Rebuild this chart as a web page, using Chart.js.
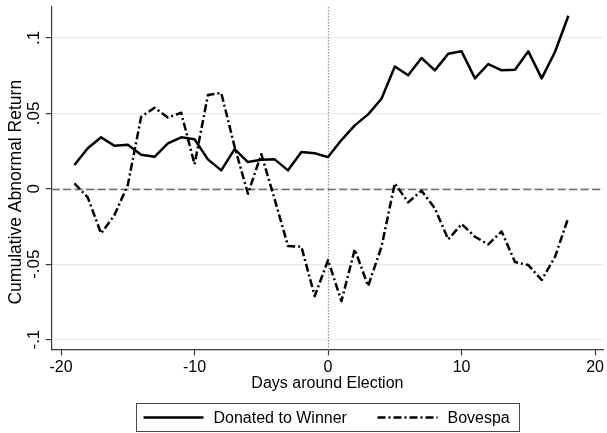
<!DOCTYPE html>
<html>
<head>
<meta charset="utf-8">
<script src="https://cdn.jsdelivr.net/npm/chart.js@4.4.1/dist/chart.umd.min.js"></script>
<style>
  html, body { margin: 0; padding: 0; background: #fff; }
  #wrap { width: 607px; height: 433px; }
</style>
</head>
<body>
<div id="wrap"><canvas id="c" width="607" height="433"></canvas></div>
<script>
// Event window, in trading days around the election date
const days = [-19, -18, -17, -16, -15, -14, -13, -12, -11, -10, -9, -8, -7, -6, -5, -4, -3, -2, -1, 0,
              1, 2, 3, 4, 5, 6, 7, 8, 9, 10, 11, 12, 13, 14, 15, 16, 17, 18];

// Cumulative abnormal return of firms that donated to the winning candidate
const donatedToWinner = [0.0157, 0.0268, 0.0341, 0.0285, 0.0292, 0.0225, 0.0212, 0.0301, 0.0341, 0.0328,
                         0.0195, 0.0122, 0.0263, 0.0177, 0.0192, 0.0195, 0.0122, 0.0243, 0.0235, 0.0210,
                         0.0323, 0.0420, 0.0493, 0.0597, 0.0811, 0.0752, 0.0867, 0.0785, 0.0895, 0.0911,
                         0.0732, 0.0827, 0.0785, 0.0789, 0.0911, 0.0732, 0.0908, 0.1147];

// Cumulative return of the Bovespa index
const bovespa = [0.0036, -0.0057, -0.0296, -0.0174, 0.0025, 0.0477, 0.0537, 0.0473, 0.0504, 0.0162,
                 0.0621, 0.0635, 0.0279, -0.0033, 0.0230, -0.0070, -0.0380, -0.0384, -0.0712, -0.0473,
                 -0.0745, -0.0402, -0.0645, -0.0385, 0.0036, -0.0090, -0.0013, -0.0130, -0.0336, -0.0234,
                 -0.0318, -0.0369, -0.0283, -0.0486, -0.0506, -0.0605, -0.0451, -0.0190];

const seriesNames = ['Donated to Winner', 'Bovespa'];
const xTickValues = [-20, -10, 0, 10, 20];
const yTickValues = [-0.1, -0.05, 0, 0.05, 0.1];
const yTickLabels = ['-.1', '-.05', '0', '.05', '.1'];
const xTitle = 'Days around Election';
const yTitle = 'Cumulative Abnormal Return';

const FONT = "'Liberation Sans', Arial, Helvetica, sans-serif";
const AXIS_COLOR = '#3a3a3a';
const BOVESPA_DASH = [8, 3, 2, 3];

const toPoints = (ys) => days.map((d, i) => ({ x: d, y: ys[i] }));

// Reference lines: dashed at zero return, dotted on the election day
const referenceLines = {
  id: 'referenceLines',
  beforeDatasetsDraw(chart) {
    const { ctx, chartArea: a, scales: { x, y } } = chart;
    ctx.save();
    ctx.lineWidth = 1.3;
    ctx.strokeStyle = '#6e6e6e';
    ctx.setLineDash([8, 3.5]);
    const y0 = Math.round(y.getPixelForValue(0)) + 0.5;
    ctx.beginPath();
    ctx.moveTo(a.left, y0);
    ctx.lineTo(a.right, y0);
    ctx.stroke();
    ctx.strokeStyle = '#9a9a9a';
    ctx.setLineDash([1.5, 1.5]);
    const x0 = Math.round(x.getPixelForValue(0)) + 0.5;
    ctx.beginPath();
    ctx.moveTo(x0, a.top);
    ctx.lineTo(x0, a.bottom);
    ctx.stroke();
    ctx.restore();
  }
};

// Vertical y tick labels and axis title, reading bottom to top
const verticalYText = {
  id: 'verticalYText',
  afterDraw(chart) {
    const { ctx, chartArea: a, scales: { y } } = chart;
    ctx.save();
    ctx.fillStyle = '#000';
    ctx.textAlign = 'center';
    ctx.textBaseline = 'middle';
    ctx.font = '17px ' + FONT;
    yTickValues.forEach((v, i) => {
      ctx.save();
      ctx.translate(y.left + 34, y.getPixelForValue(v));
      ctx.rotate(-Math.PI / 2);
      ctx.fillText(yTickLabels[i], 0, 0);
      ctx.restore();
    });
    ctx.font = '17.5px ' + FONT;
    ctx.translate(y.left + 16, (a.top + a.bottom) / 2 + 14);
    ctx.rotate(-Math.PI / 2);
    ctx.fillText(yTitle, 0, 0);
    ctx.restore();
  }
};

// Boxed legend under the axis title
const boxedLegend = {
  id: 'boxedLegend',
  afterDraw(chart) {
    const { ctx, chartArea: a } = chart;
    const boxW = 383, boxH = 28, top = 403.5;
    const left = Math.round((a.left + a.right) / 2 - boxW / 2) + 0.5;
    ctx.save();
    ctx.strokeStyle = '#4a4a4a';
    ctx.lineWidth = 1;
    ctx.setLineDash([]);
    ctx.strokeRect(left, top, boxW, boxH);
    ctx.font = '16px ' + FONT;
    ctx.fillStyle = '#000';
    ctx.textBaseline = 'middle';
    ctx.textAlign = 'left';
    const cy = top + boxH / 2;
    const items = [
      { x: left + 7, dash: [] },
      { x: left + 241, dash: BOVESPA_DASH }
    ];
    chart.data.datasets.forEach((ds, i) => {
      const it = items[i];
      ctx.strokeStyle = ds.borderColor;
      ctx.lineWidth = ds.borderWidth;
      ctx.setLineDash(it.dash);
      ctx.beginPath();
      ctx.moveTo(it.x, cy);
      ctx.lineTo(it.x + 60, cy);
      ctx.stroke();
      ctx.fillText(ds.label, it.x + 70, cy + 1);
    });
    ctx.restore();
  }
};

new Chart(document.getElementById('c'), {
  type: 'line',
  data: {
    datasets: [
      {
        label: seriesNames[0],
        data: toPoints(donatedToWinner),
        borderColor: '#000',
        borderWidth: 2.5,
        borderJoinStyle: 'round',
        pointRadius: 0,
        tension: 0
      },
      {
        label: seriesNames[1],
        data: toPoints(bovespa),
        borderColor: '#000',
        borderWidth: 2.5,
        borderDash: BOVESPA_DASH,
        borderJoinStyle: 'round',
        pointRadius: 0,
        tension: 0
      }
    ]
  },
  options: {
    responsive: false,
    animation: false,
    devicePixelRatio: 1,
    layout: { padding: { left: 0, right: 0, top: 7, bottom: 40 } },
    plugins: { legend: { display: false }, tooltip: { enabled: false } },
    scales: {
      x: {
        type: 'linear',
        min: -20.7,
        max: 20.6,
        afterBuildTicks: (s) => { s.ticks = xTickValues.map((v) => ({ value: v })); },
        afterFit: (s) => { s.height = 43.6; },
        ticks: {
          color: '#000',
          font: { family: FONT, size: 16 },
          padding: 3,
          maxRotation: 0,
          autoSkip: false,
          callback: (v) => String(v)
        },
        grid: { drawOnChartArea: false, drawTicks: true, tickLength: 6, tickColor: AXIS_COLOR, tickWidth: 1.2 },
        border: { color: AXIS_COLOR, width: 1.2 },
        title: { display: true, text: xTitle, color: '#000', font: { family: FONT, size: 16 }, padding: 0 }
      },
      y: {
        min: -0.1065,
        max: 0.1205,
        afterBuildTicks: (s) => { s.ticks = yTickValues.map((v) => ({ value: v })); },
        afterFit: (s) => { s.width = 51.7; },
        ticks: { display: false },
        grid: { color: '#e9e9e9', lineWidth: 1.2, drawTicks: true, tickLength: 6, tickColor: AXIS_COLOR, tickWidth: 1.2 },
        border: { color: AXIS_COLOR, width: 1.2 },
        title: { display: false }
      }
    }
  },
  plugins: [referenceLines, verticalYText, boxedLegend]
});
</script>
</body>
</html>
